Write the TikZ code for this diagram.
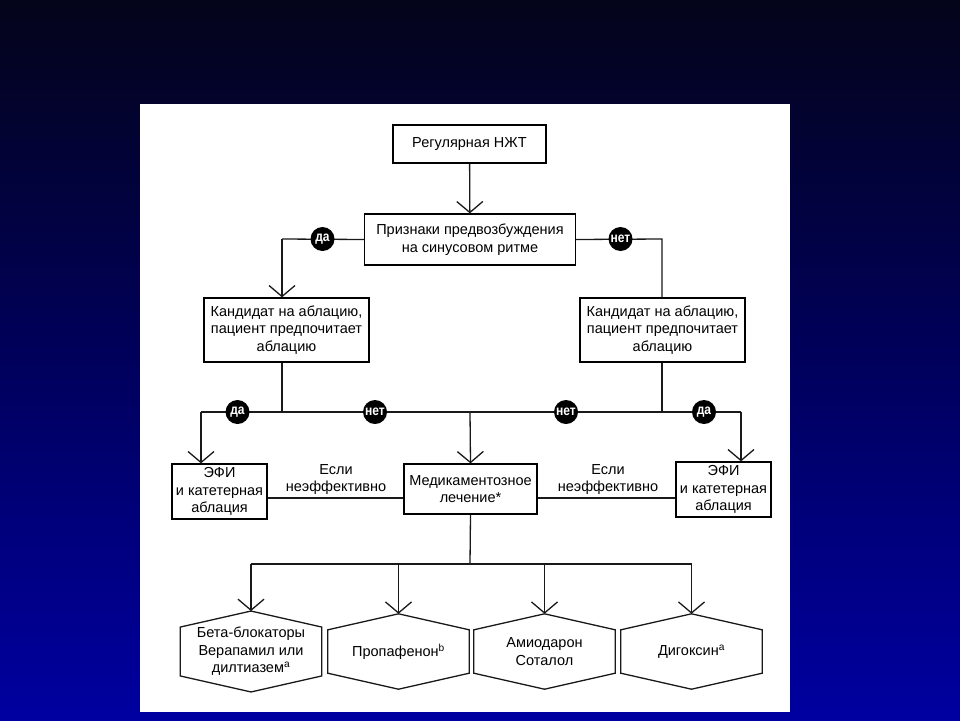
\documentclass[tikz,border=0pt]{standalone}
\usepackage{fontspec}
\setmainfont{Liberation Sans}
\newfontfamily\tagfont[FakeStretch=0.86]{Liberation Sans}
\usetikzlibrary{arrows.meta,calc}
\begin{document}
\begin{tikzpicture}[x=1pt,y=-1pt,
  txt/.style={font=\fontsize{14.5}{17.5}\selectfont, align=center, inner sep=0pt},
  box/.style={txt, draw=black, line width=1.3pt, fill=white},
  hexin/.style={txt, minimum width=141pt, minimum height=43pt},
  line/.style={draw=black!90, line width=1.3pt},
  arr/.style={line, -{Straight Barb[length=11pt,width=26pt]}},
  tag/.style={circle, fill=black, text=white, inner sep=0pt, minimum size=24pt,
    font=\tagfont\fontsize{14}{14}\selectfont\bfseries},
  lbl/.style={txt}]
% background
\shade[top color={rgb,255:red,4;green,4;blue,26}, bottom color={rgb,255:red,0;green,0;blue,160}, middle color={rgb,255:red,0;green,0;blue,92}]
  (0,0) rectangle (960,720);
\useasboundingbox (0,0) rectangle (960,720);
\fill[white] (140,104) rectangle (790,712);

% nodes
\node[box, minimum width=153pt, minimum height=38pt] (b1) at (469.5,144) {Регулярная НЖТ};
\node[box, minimum width=211pt, minimum height=51pt] (b2) at (470,239.5) {Признаки предвозбуждения\\на синусовом ритме};
\node[box, minimum width=165pt, minimum height=64pt] (b3) at (286.5,330) {Кандидат на аблацию,\\пациент предпочитает\\аблацию};
\node[box, minimum width=165pt, minimum height=64pt] (b4) at (662.5,330) {Кандидат на аблацию,\\пациент предпочитает\\аблацию};
\node[box, minimum width=95pt, minimum height=55pt] (e1) at (219.5,491.5) {ЭФИ\\и катетерная\\аблация};
\node[box, minimum width=133pt, minimum height=50pt] (m) at (470.5,489) {Медикаментозное\\лечение*};
\node[box, minimum width=95pt, minimum height=55pt] (e2) at (723.5,489.5) {ЭФИ\\и катетерная\\аблация};

% hexagons
\foreach \n/\cx/\t in {h1/251/{Бета-блокаторы\\Верапамил или\\дилтиазем\textsuperscript{a}},
                       h2/398.5/{Пропафенон\textsuperscript{b}},
                       h3/544.5/{Амиодарон\\Соталол},
                       h4/691.5/{Дигоксин\textsuperscript{a}}}{
  \node[hexin] (\n) at (\cx,651.5) {\t};
  \coordinate (\n top) at ([yshift=16pt]\n.north);
  \coordinate (\n bot) at ([yshift=-16pt]\n.south);
  \draw[line] (\n.north west) -- (\n top) -- (\n.north east) -- (\n.south east) -- (\n bot) -- (\n.south west) -- cycle;
}

% coordinates
\coordinate (l1) at (282,239);
\coordinate (r1) at (662,239);
\coordinate (bl) at (201,412);
\coordinate (bm) at (470,412);
\coordinate (br) at (741,412);
\coordinate (b3j) at (282,412);
\coordinate (b4j) at (662,412);
\coordinate (mj) at (470,564);
\coordinate (hl) at (251,564);
\coordinate (hr) at (691.5,564);

% connectors
\draw[arr] (b1) -- (b2);
\draw[line] (b2.west) -- (l1);
\draw[arr] (l1) -- (l1 |- b3.north);
\draw[line] (b2.east) -- (r1) -- (r1 |- b4.north);
\draw[line] (l1 |- b3.south) -- (b3j);
\draw[line] (r1 |- b4.south) -- (b4j);
\draw[line] (bl) -- (br);
\draw[arr] (bl) -- (bl |- e1.north);
\draw[arr] (bm) -- (m.north);
\draw[arr] (br) -- (br |- e2.north);
\draw[line] (e1.east |- 0,498) -- (m.west |- 0,498);
\draw[line] (m.east |- 0,498) -- (e2.west |- 0,498);
\draw[line] (m.south) -- (mj);
\draw[line] (hl) -- (hr);
\foreach \n in {h1,h2,h3,h4}{ \draw[arr] (\n top |- mj) -- (\n top); }

% tags
\node[tag] (t1) at (322.5,239) {да};
\node[tag] (t2) at (620.5,239) {нет};
\node[tag] (t3) at (237.5,412) {да};
\node[tag] (t4) at (375,412) {нет};
\node[tag] (t5) at (566,412) {нет};
\node[tag] (t6) at (704,412) {да};

% labels
\node[lbl] (q1) at (336,479.5) {Если\\неэффективно};
\node[lbl] (q2) at (608,479.5) {Если\\неэффективно};
\end{tikzpicture}
\end{document}
